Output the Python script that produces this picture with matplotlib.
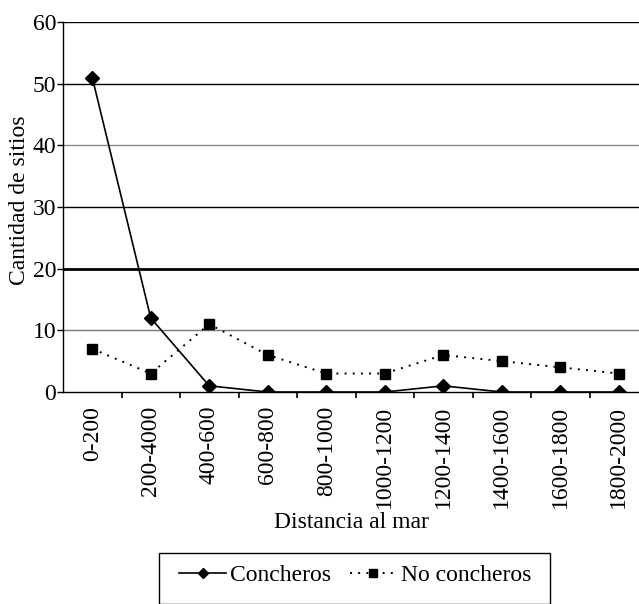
import numpy as np
import matplotlib.pyplot as plt
from matplotlib.patches import Rectangle

# ==========================================
# Data
# ==========================================
categories = ['0-200', '200-4000', '400-600', '600-800', '800-1000',
              '1000-1200', '1200-1400', '1400-1600', '1600-1800', '1800-2000']
concheros = [51, 12, 1, 0, 0, 0, 1, 0, 0, 0]
no_concheros = [7, 3, 11, 6, 3, 3, 6, 5, 4, 3]
y_ticks = [0, 10, 20, 30, 40, 50, 60]

plt.rcParams.update({
    'font.family': ['Liberation Serif', 'DejaVu Serif'],
    'font.size': 17,
})

W, H = 639, 604
fig = plt.figure(figsize=(W / 100, H / 100), dpi=100)
# axes runs slightly past the right edge, as in the original
ax = fig.add_axes([63 / W, 1 - 392 / H, (648 - 63) / W, (392 - 22) / H])

x = np.arange(len(categories))

# gridlines (scan gives them different weights)
grid_style = {60: ('black', 1.0), 50: ('black', 1.0), 40: ('#888888', 1.0),
              30: ('black', 1.0), 20: ('black', 2.0), 10: ('#777777', 1.0)}
for v in y_ticks[1:]:
    c, lw = grid_style[v]
    ax.axhline(v, color=c, linewidth=lw, zorder=0)

ax.plot(x, concheros, color='black', linewidth=1.2, marker='D', markersize=7,
        label='Concheros', zorder=3)
ax.plot(x, no_concheros, color='black', linewidth=1.4, linestyle=(0, (1, 3.2)),
        marker='s', markersize=7, label='No concheros', zorder=3)

ax.set_xlim(-0.5, len(categories) - 0.5)
ax.set_ylim(0, 60)

ax.spines['top'].set_visible(False)
ax.spines['right'].set_visible(False)
ax.spines['left'].set_linewidth(1.0)
ax.spines['bottom'].set_linewidth(1.0)

ax.set_yticks(y_ticks)
ax.tick_params(axis='y', direction='out', length=4, width=1, pad=1)

ax.set_xticks(x)
ax.set_xticklabels(categories, rotation=90, va='top', ha='center')
ax.tick_params(axis='x', which='major', length=0, pad=10)
ax.set_xticks(x[:-1] + 0.5, minor=True)
ax.tick_params(axis='x', which='minor', direction='out', length=4, width=1.2)

fig.text(20 / W, 1 - 200 / H, 'Cantidad de sitios', rotation=90,
         ha='center', va='center')
fig.text(351 / W, 1 - 523 / H, 'Distancia al mar', ha='center', va='center')

# legend with a plain square box
fig.legend(loc='center', bbox_to_anchor=(355 / W, 1 - 575 / H), ncol=2,
           frameon=False, handlelength=2.0, handletextpad=0.15,
           columnspacing=0.8, markerscale=0.8)
fig.patches.append(Rectangle((159 / W, 0.0), (550 - 159) / W, (604 - 553) / H,
                             transform=fig.transFigure, fill=False,
                             edgecolor='black', linewidth=1.0))

fig.savefig('out.png', dpi=100)
